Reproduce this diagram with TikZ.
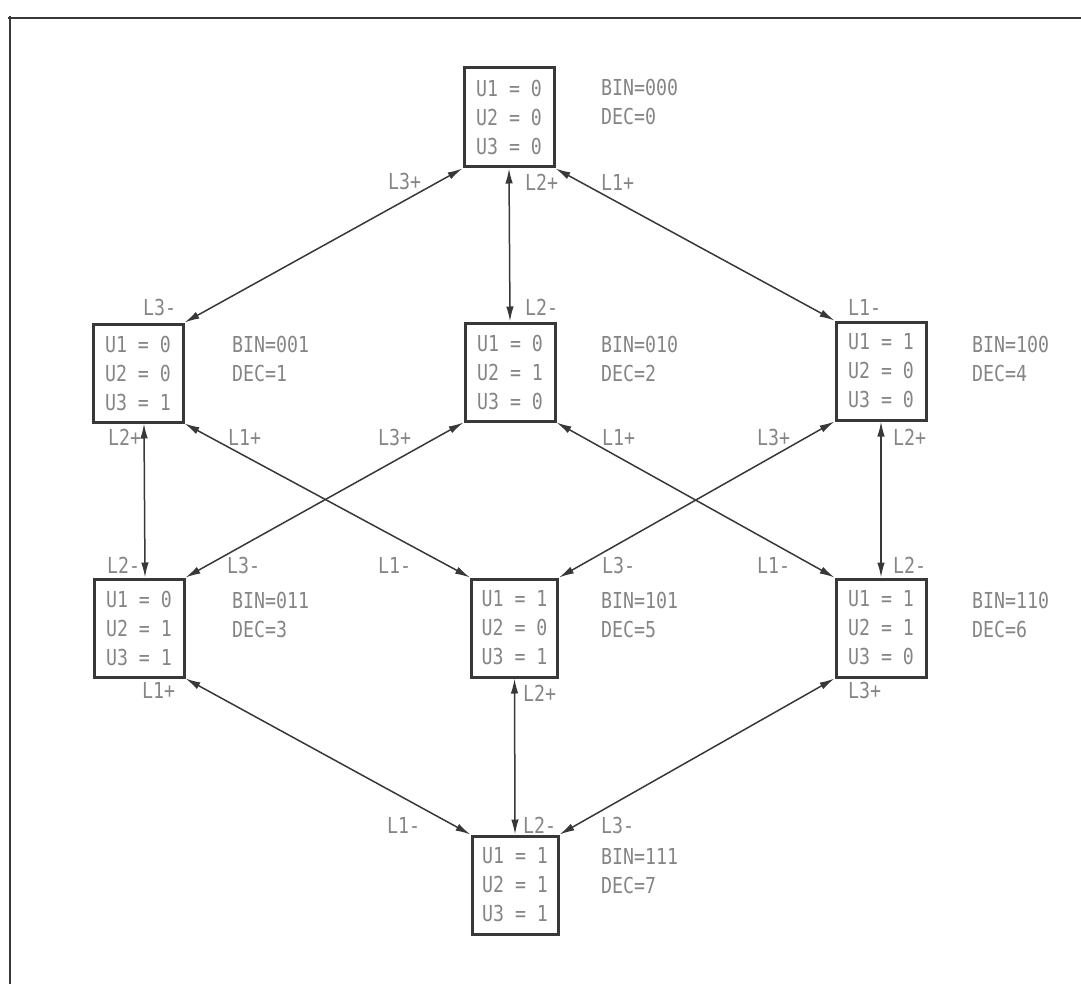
\documentclass[tikz,border=0pt]{standalone}
\usepackage{fontspec}
\usetikzlibrary{arrows.meta}
\newfontfamily\plotfont[FakeStretch=0.83]{DejaVu Sans Mono}
\definecolor{ink}{HTML}{383838}
\definecolor{txt}{HTML}{858585}
\tikzset{
  statebox/.style={draw=ink, line width=3pt, minimum width=90pt, minimum height=98pt,
    inner sep=0pt, align=left, text=txt, font=\plotfont\fontsize{22}{29}\selectfont},
  lbl/.style={anchor=base west, inner sep=0pt, text=txt, font=\plotfont\fontsize{22}{29}\selectfont},
  link/.style={draw=ink, line width=1.5pt, {Latex[length=15pt,width=7.5pt]}-{Latex[length=15pt,width=7.5pt]}},
  frameline/.style={draw=ink, line width=2pt}
}
\begin{document}
\begin{tikzpicture}[x=1pt,y=-1pt]
\useasboundingbox (0,0) rectangle (1081,984);
% frame
\coordinate (fA) at (8,18);
\coordinate (fB) at (1081,18);
\coordinate (fC) at (10,16);
\coordinate (fD) at (10,984);
\draw[frameline] (fA) -- (fB);
\draw[frameline] (fC) -- (fD);
% state boxes
\node[statebox, minimum height=99pt] (s0) at (509,117.5) {U1 = 0\\U2 = 0\\U3 = 0};
\node[statebox] (s1) at (138,373) {U1 = 0\\U2 = 0\\U3 = 1};
\node[statebox] (s2) at (510,372) {U1 = 0\\U2 = 1\\U3 = 0};
\node[statebox] (s4) at (881,371) {U1 = 1\\U2 = 0\\U3 = 0};
\node[statebox] (s3) at (139,628) {U1 = 0\\U2 = 1\\U3 = 1};
\node[statebox, minimum width=86pt] (s5) at (514.5,628) {U1 = 1\\U2 = 0\\U3 = 1};
\node[statebox] (s6) at (881,628) {U1 = 1\\U2 = 1\\U3 = 0};
\node[statebox, minimum width=86pt] (s7) at (515,885) {U1 = 1\\U2 = 1\\U3 = 1};
% connectors
\draw[link] (s0.south west) -- (s1.north east);
\draw[link] (s0.south) -- (s2.north);
\draw[link] (s0.south east) -- (s4.north west);
\draw[link] ([xshift=6pt]s1.south) -- ([xshift=6pt]s3.north);
\draw[link] (s1.south east) -- (s5.north west);
\draw[link] (s2.south west) -- (s3.north east);
\draw[link] (s2.south east) -- (s6.north west);
\draw[link] (s4.south west) -- (s5.north east);
\draw[link] (s4.south) -- (s6.north);
\draw[link] (s3.south east) -- (s7.north west);
\draw[link] (s5.south) -- (s7.north);
\draw[link] (s6.south west) -- (s7.north east);
% BIN / DEC texts
\node[lbl] (b0) at (601,96) {BIN=000};
\node[lbl] (d0) at (601,125) {DEC=0};
\node[lbl] (b1) at (232,352) {BIN=001};
\node[lbl] (d1) at (232,381) {DEC=1};
\node[lbl] (b2) at (601,352) {BIN=010};
\node[lbl] (d2) at (601,381) {DEC=2};
\node[lbl] (b4) at (972,352) {BIN=100};
\node[lbl] (d4) at (972,381) {DEC=4};
\node[lbl] (b3) at (232,608) {BIN=011};
\node[lbl] (d3) at (232,637) {DEC=3};
\node[lbl] (b5) at (601,608) {BIN=101};
\node[lbl] (d5) at (601,637) {DEC=5};
\node[lbl] (b6) at (972,608) {BIN=110};
\node[lbl] (d6) at (972,637) {DEC=6};
\node[lbl] (b7) at (601,864) {BIN=111};
\node[lbl] (d7) at (601,893) {DEC=7};
% end labels
\node[lbl] (t0a) at (388,190) {L3+};
\node[lbl] (t0b) at (525,191) {L2+};
\node[lbl] (t0c) at (601,191) {L1+};
\node[lbl] (t1a) at (143,316) {L3-};
\node[lbl] (t1b) at (108,445) {L2+};
\node[lbl] (t1c) at (228,445) {L1+};
\node[lbl] (t2a) at (525,316) {L2-};
\node[lbl] (t2b) at (378,445) {L3+};
\node[lbl] (t2c) at (602,445) {L1+};
\node[lbl] (t4a) at (848,316) {L1-};
\node[lbl] (t4b) at (757,445) {L3+};
\node[lbl] (t4c) at (893,445) {L2+};
\node[lbl] (t3a) at (107,573) {L2-};
\node[lbl] (t3b) at (227,573) {L3-};
\node[lbl] (t3c) at (142,698) {L1+};
\node[lbl] (t5a) at (378,573) {L1-};
\node[lbl] (t5b) at (602,573) {L3-};
\node[lbl] (t5c) at (523,701) {L2+};
\node[lbl] (t6a) at (757,573) {L1-};
\node[lbl] (t6b) at (893,573) {L2-};
\node[lbl] (t6c) at (848,698) {L3+};
\node[lbl] (t7a) at (387,833) {L1-};
\node[lbl] (t7b) at (523,833) {L2-};
\node[lbl] (t7c) at (601,833) {L3-};
\end{tikzpicture}
\end{document}
